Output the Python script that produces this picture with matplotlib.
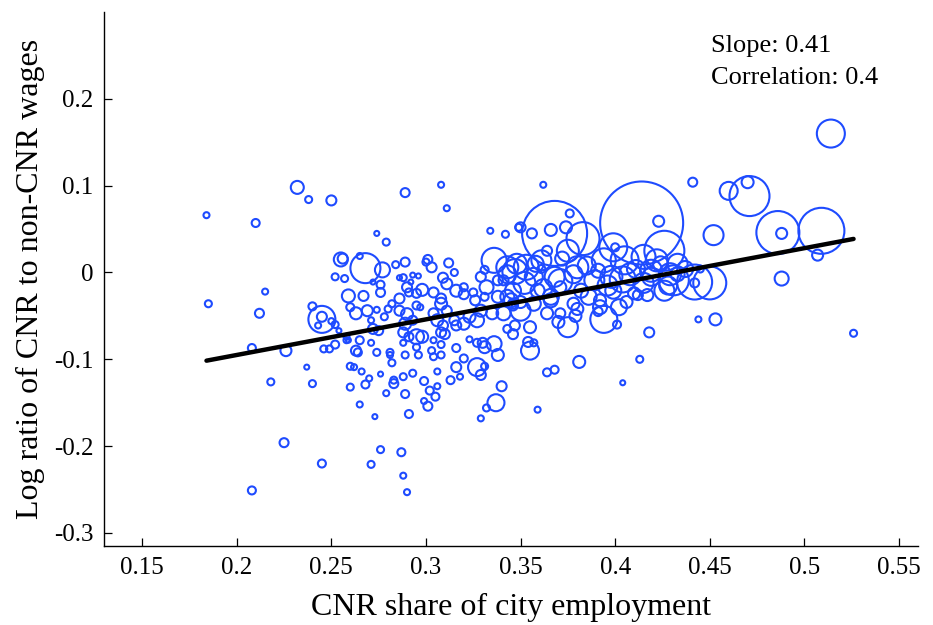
import numpy as np
import matplotlib
matplotlib.use("Agg")
import matplotlib.pyplot as plt

# -----------------------
# Data
# -----------------------
# CNR share of city employment
cnr_share = [
    0.184, 0.185, 0.210, 0.232, 0.238, 0.250, 0.255, 0.256, 0.252, 0.257,
    0.215, 0.259, 0.240, 0.268, 0.212, 0.245, 0.245, 0.243, 0.250, 0.252,
    0.254, 0.208, 0.226, 0.246, 0.249, 0.252, 0.258, 0.259, 0.263, 0.264,
    0.237, 0.260, 0.262, 0.218, 0.240, 0.260, 0.265, 0.225, 0.245, 0.208,
    0.289, 0.308, 0.311, 0.274, 0.279, 0.334, 0.342, 0.349, 0.265, 0.277,
    0.272, 0.276, 0.276, 0.267, 0.284, 0.289, 0.286, 0.288, 0.293, 0.296,
    0.292, 0.300, 0.301, 0.303, 0.312, 0.315, 0.309, 0.311, 0.316, 0.320,
    0.320, 0.290, 0.291, 0.295, 0.298, 0.304, 0.286, 0.308, 0.325, 0.326,
    0.336, 0.343, 0.347, 0.329, 0.331, 0.338, 0.341, 0.332, 0.338, 0.343,
    0.346, 0.331, 0.263, 0.260, 0.269, 0.274, 0.280, 0.282, 0.278, 0.271,
    0.272, 0.275, 0.286, 0.290, 0.293, 0.289, 0.295, 0.297, 0.288, 0.295,
    0.298, 0.291, 0.288, 0.295, 0.304, 0.306, 0.308, 0.309, 0.310, 0.308,
    0.311, 0.304, 0.308, 0.316, 0.315, 0.316, 0.320, 0.323, 0.327, 0.329,
    0.323, 0.327, 0.330, 0.331, 0.336, 0.338, 0.335, 0.341, 0.343, 0.346,
    0.347, 0.346, 0.258, 0.265, 0.271, 0.274, 0.281, 0.281, 0.282, 0.289,
    0.296, 0.303, 0.304, 0.308, 0.320, 0.316, 0.266, 0.276, 0.270, 0.268,
    0.283, 0.283, 0.288, 0.293, 0.306, 0.299, 0.302, 0.306, 0.305, 0.299,
    0.301, 0.313, 0.318, 0.327, 0.329, 0.331, 0.340, 0.337, 0.332, 0.329,
    0.279, 0.289, 0.273, 0.291, 0.276, 0.287, 0.271, 0.288, 0.290,
    0.362, 0.368, 0.376, 0.350, 0.356, 0.366, 0.374, 0.414, 0.423, 0.383,
    0.399, 0.400, 0.426, 0.364, 0.375, 0.348, 0.353, 0.380, 0.361, 0.394,
    0.405, 0.415, 0.422, 0.343, 0.357, 0.368, 0.378, 0.389, 0.398, 0.408,
    0.419, 0.429, 0.346, 0.359, 0.371, 0.382, 0.399, 0.410, 0.417, 0.426,
    0.350, 0.366, 0.378, 0.392, 0.406, 0.361,
    0.394, 0.391, 0.401, 0.418, 0.413, 0.381, 0.364, 0.368, 0.404, 0.359,
    0.355, 0.354, 0.357, 0.355, 0.375, 0.370, 0.364, 0.371, 0.380, 0.350,
    0.345, 0.357, 0.412,
    0.514, 0.441, 0.460, 0.470, 0.471, 0.452, 0.486, 0.488, 0.509, 0.507,
    0.488, 0.442, 0.450, 0.431, 0.442, 0.445, 0.433, 0.424, 0.444, 0.453,
    0.526,
    # denser core of the cloud
    0.352, 0.362, 0.371, 0.386, 0.396, 0.404, 0.411, 0.419, 0.433, 0.437,
    0.358, 0.372, 0.385, 0.392, 0.402, 0.415, 0.428, 0.366, 0.379, 0.391,
]

# Log ratio of CNR to non-CNR wages
log_ratio = [
    0.066, -0.036, 0.057, 0.098, 0.084, 0.083, 0.015, 0.016, -0.005, -0.007,
    -0.022, -0.027, -0.039, 0.005, -0.047, -0.054, -0.051, -0.061, -0.056, -0.060,
    -0.067, -0.087, -0.090, -0.088, -0.088, -0.083, -0.074, -0.078, -0.090, -0.092,
    -0.109, -0.108, -0.109, -0.126, -0.128, -0.132, -0.152, -0.196, -0.220, -0.251,
    0.092, 0.101, 0.074, 0.045, 0.035, 0.048, 0.044, 0.052, 0.019, 0.003,
    -0.011, -0.014, -0.023, -0.027, 0.009, 0.012, -0.006, -0.006, -0.003, -0.004,
    -0.011, 0.012, 0.015, 0.006, 0.011, 0.000, -0.006, -0.013, -0.021, -0.017,
    -0.025, -0.017, -0.023, -0.024, -0.020, -0.023, -0.030, -0.030, -0.023, -0.032,
    0.014, 0.006, 0.001, -0.005, 0.003, -0.009, -0.009, -0.017, -0.028, -0.028,
    -0.036, -0.028, -0.047, -0.040, -0.044, -0.043, -0.042, -0.036, -0.051, -0.055,
    -0.065, -0.067, -0.044, -0.048, -0.055, -0.059, -0.038, -0.040, -0.069, -0.074,
    -0.074, -0.074, -0.081, -0.086, -0.047, -0.055, -0.036, -0.061, -0.071, -0.069,
    -0.044, -0.078, -0.083, -0.087, -0.055, -0.061, -0.059, -0.051, -0.055, -0.044,
    -0.077, -0.081, -0.081, -0.086, -0.082, -0.095, -0.047, -0.047, -0.065, -0.071,
    -0.061, -0.038, -0.078, -0.078, -0.081, -0.092, -0.092, -0.095, -0.104, -0.095,
    -0.095, -0.090, -0.097, -0.095, -0.099, -0.109, -0.114, -0.117, -0.122, -0.129,
    -0.124, -0.128, -0.120, -0.116, -0.114, -0.125, -0.136, -0.131, -0.143, -0.148,
    -0.154, -0.124, -0.120, -0.109, -0.118, -0.108, -0.131, -0.150, -0.156, -0.168,
    -0.139, -0.140, -0.166, -0.163, -0.204, -0.207, -0.221, -0.234, -0.253,
    0.101, 0.045, 0.068, 0.052, 0.045, 0.049, 0.052, 0.057, 0.059, 0.039,
    0.029, 0.029, 0.025, 0.025, 0.025, 0.010, 0.006, 0.006, 0.014, 0.014,
    0.014, 0.018, 0.014, -0.002, -0.005, -0.005, -0.002, -0.009, -0.005, -0.002,
    -0.005, -0.002, -0.021, -0.021, -0.017, -0.021, -0.021, -0.024, -0.026, -0.021,
    -0.034, -0.032, -0.036, -0.032, -0.034, 0.004,
    -0.054, -0.045, -0.060, -0.069, -0.100, -0.103, -0.115, -0.112, -0.127, -0.158,
    -0.090, -0.080, -0.081, -0.063, -0.063, -0.057, -0.047, -0.047, -0.042, -0.044,
    -0.032, -0.036, -0.026,
    0.160, 0.104, 0.094, 0.104, 0.088, 0.043, 0.046, 0.045, 0.048, 0.020,
    -0.007, -0.011, -0.012, -0.009, -0.012, 0.004, -0.002, 0.010, -0.054, -0.054,
    -0.070,
    -0.012, -0.018, -0.010, -0.028, -0.015, -0.008, 0.004, 0.002, 0.010, 0.004,
    0.010, 0.016, 0.008, -0.040, -0.040, -0.012, -0.015, -0.028, -0.050, 0.002,
]

# relative city size (bubble diameter scale)
city_size = [
    6, 7, 8, 13, 7, 10, 14, 10, 7, 7,
    6, 13, 8, 30, 9, 27, 10, 6, 6, 7,
    5, 8, 11, 7, 7, 8, 6, 5, 10, 8,
    5, 7, 6, 7, 7, 7, 6, 9, 8, 8,
    9, 6, 6, 5, 7, 6, 7, 7, 6, 15,
    5, 8, 9, 10, 7, 9, 5, 7, 5, 5,
    5, 7, 9, 10, 9, 7, 10, 11, 12, 8,
    10, 10, 8, 9, 12, 10, 10, 10, 8, 10,
    25, 22, 25, 10, 8, 10, 10, 14, 12, 14,
    10, 8, 12, 8, 11, 6, 7, 7, 7, 6,
    10, 9, 10, 12, 9, 12, 8, 6, 10, 15,
    12, 9, 6, 7, 10, 12, 12, 10, 10, 10,
    10, 6, 7, 8, 10, 10, 12, 12, 14, 12,
    6, 8, 10, 12, 15, 12, 12, 14, 8, 10,
    10, 10, 6, 8, 6, 7, 7, 6, 7, 7,
    7, 7, 7, 7, 8, 10, 6, 5, 6, 8,
    7, 9, 7, 7, 6, 8, 8, 6, 8, 6,
    9, 8, 6, 18, 10, 7, 10, 17, 7, 6,
    6, 8, 5, 8, 7, 8, 7, 6, 6,
    6, 65, 8, 10, 10, 12, 12, 83, 11, 33,
    28, 8, 40, 10, 22, 20, 25, 22, 20, 24,
    28, 24, 22, 18, 18, 20, 18, 20, 22, 22,
    18, 22, 16, 14, 12, 14, 16, 12, 12, 20,
    12, 14, 12, 12, 12, 8,
    27, 9, 8, 10, 7, 12, 8, 8, 5, 6,
    18, 10, 7, 12, 20, 12, 12, 10, 12, 20,
    14, 14, 10,
    28, 9, 18, 12, 40, 20, 43, 11, 46, 11,
    14, 35, 33, 30, 9, 7, 14, 15, 6, 12,
    7,
    22, 18, 24, 16, 20, 26, 18, 22, 20, 16,
    16, 14, 18, 14, 16, 20, 18, 16, 12, 14,
]

slope = 0.41
intercept = -0.177
correlation = 0.4

x = np.array(cnr_share)
y = np.array(log_ratio)
sz = np.array(city_size, dtype=float)

# -----------------------
# Plot
# -----------------------
plt.rcParams["font.family"] = ["Liberation Serif", "DejaVu Serif"]
plt.rcParams["axes.unicode_minus"] = False

fig = plt.figure(figsize=(9.33, 6.25), dpi=100)
ax = fig.add_axes([0.1118, 0.1264, 0.872, 0.8544])

blue = "#1e4bff"
ax.scatter(x, y, s=(0.72 * sz) ** 2, facecolors="none", edgecolors=blue,
           linewidths=1.5, zorder=2)

xf = np.array([x.min(), x.max()])
ax.plot(xf, slope * xf + intercept, color="black", lw=3.2,
        solid_capstyle="round", zorder=3)

ax.set_xlim(0.13, 0.56)
ax.set_ylim(-0.315, 0.3)
ax.set_xticks([0.15, 0.2, 0.25, 0.3, 0.35, 0.4, 0.45, 0.5, 0.55])
ax.set_xticklabels(["0.15", "0.2", "0.25", "0.3", "0.35", "0.4", "0.45", "0.5", "0.55"])
ax.set_yticks([-0.3, -0.2, -0.1, 0, 0.1, 0.2])
ax.set_yticklabels(["-0.3", "-0.2", "-0.1", "0", "0.1", "0.2"])

for side in ["top", "right"]:
    ax.spines[side].set_visible(False)
for side in ["left", "bottom"]:
    ax.spines[side].set_linewidth(1.0)

ax.tick_params(direction="in", length=6, width=0.9, labelsize=18, pad=8)

ax.set_xlabel("CNR share of city employment", fontsize=23, labelpad=10)
ax.set_ylabel("Log ratio of CNR to non-CNR wages", fontsize=23, labelpad=6)

ax.text(0.746, 0.925, "Slope: %.2f" % slope, transform=ax.transAxes,
        fontsize=19, va="baseline")
ax.text(0.746, 0.865, "Correlation: %.1f" % correlation, transform=ax.transAxes,
        fontsize=19, va="baseline")

fig.savefig("out.png", dpi=100)
